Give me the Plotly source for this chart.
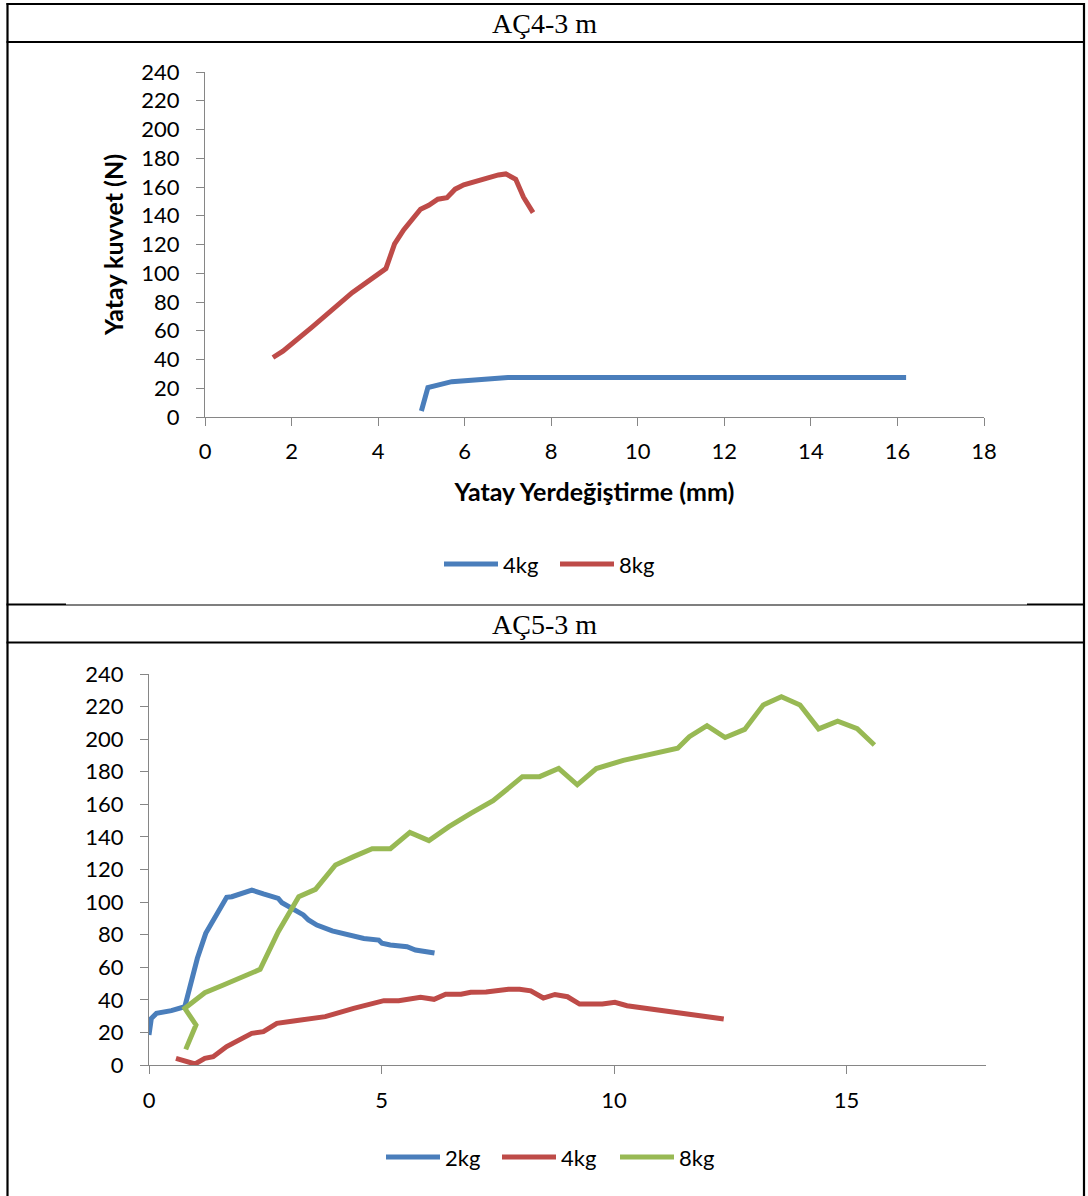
import plotly.graph_objects as go

W, H = 1088, 1196

# ---------------- data ----------------
# Panel 1: AÇ4-3 m
top_title = "AÇ4-3 m"
top_x_4kg = [5.0, 5.15, 5.7, 6.3, 7.0, 8.0, 9.0, 10.0, 11.0, 12.0, 13.0, 14.0, 15.0, 16.2]
top_y_4kg = [4.2, 20.5, 24.6, 25.9, 27.4, 27.4, 27.4, 27.4, 27.4, 27.4, 27.4, 27.4, 27.4, 27.4]
top_x_8kg = [1.57, 1.8, 2.48, 3.4, 4.18, 4.38, 4.59, 4.98, 5.17, 5.38, 5.59, 5.78, 5.98, 6.25,
             6.54, 6.78, 6.95, 7.18, 7.36, 7.58]
top_y_8kg = [41.4, 45.8, 62.7, 86.5, 103.2, 120.4, 130.1, 144.5, 147.3, 151.5, 152.6, 158.5,
             161.5, 164.3, 166.4, 168.4, 169.1, 165.4, 152.9, 142.2]

# Panel 2: AÇ5-3 m
bot_title = "AÇ5-3 m"
bot_x_2kg = [0, 0.05, 0.16, 0.48, 0.77, 0.84, 0.99, 1.04, 1.22, 1.35, 1.54, 1.67, 1.78, 2.03,
             2.21, 2.46, 2.78, 2.86, 3.11, 3.32, 3.43, 3.61, 3.94, 4.26, 4.40, 4.62, 4.94,
             5.01, 5.19, 5.55, 5.73, 5.95, 6.14]
bot_y_2kg = [18.4, 28.6, 31.7, 33.4, 35.8, 44, 59.3, 65.5, 80.8, 87, 96.2, 102.9, 103.3, 105.8,
             107.4, 105, 102.3, 99.6, 95.1, 92.1, 89, 85.9, 82.3, 80.4, 79.2, 77.7, 76.7,
             74.7, 73.7, 72.6, 70.6, 69.4, 68.7]
bot_x_4kg = [0.58, 0.99, 1.2, 1.38, 1.67, 1.92, 2.21, 2.46, 2.75, 3.11, 3.79, 4.40, 5.05, 5.37,
             5.84, 6.13, 6.38, 6.71, 6.92, 7.25, 7.73, 7.97, 8.21, 8.48, 8.73, 9.0, 9.26,
             9.75, 10.02, 10.28, 12.36]
bot_y_4kg = [4.1, 0.6, 4.1, 5.1, 11.3, 15.3, 19.4, 20.5, 25.6, 27.0, 29.7, 34.8, 39.5, 39.5,
             41.5, 40.3, 43.4, 43.4, 44.6, 44.8, 46.5, 46.5, 45.5, 41.1, 43.3, 41.9, 37.4,
             37.4, 38.5, 36.4, 28.2]
bot_x_8kg = [0.79, 1.01, 0.77, 1.2, 1.6, 2.39, 2.78, 3.22, 3.58, 4.01, 4.40, 4.80, 5.19, 5.61,
             6.02, 6.45, 6.92, 7.40, 7.79, 8.03, 8.40, 8.81, 9.21, 9.62, 10.20, 11.37, 11.62,
             12.0, 12.39, 12.81, 13.21, 13.60, 14.0, 14.40, 14.81, 15.23, 15.60]
bot_y_8kg = [9.6, 24.6, 34.8, 44.4, 49.1, 58.7, 81.8, 103.3, 107.8, 122.8, 127.9, 132.8, 132.8,
             142.8, 137.7, 146.3, 154.5, 162.3, 171.3, 177, 177, 182, 172, 182, 187, 194.4,
             201.5, 208.3, 201, 206, 221, 226, 221, 206.3, 211, 206.5, 196.4]

y_title = "Yatay kuvvet (N)"
x_title = "Yatay Yerdeğiştirme (mm)"

BLUE, RED, GREEN = "#4A7EBB", "#BE4B48", "#98B954"
AX = "#868686"
LW = 5

def px(x):
    return x / W

def py(y):
    return 1 - y / H

fig = go.Figure()
fig.add_trace(go.Scatter(x=top_x_4kg, y=top_y_4kg, name="4kg", mode="lines",
                         line=dict(color=BLUE, width=LW), xaxis="x", yaxis="y"))
fig.add_trace(go.Scatter(x=top_x_8kg, y=top_y_8kg, name="8kg", mode="lines",
                         line=dict(color=RED, width=LW), xaxis="x", yaxis="y"))
fig.add_trace(go.Scatter(x=bot_x_2kg, y=bot_y_2kg, name="2kg", mode="lines",
                         line=dict(color=BLUE, width=LW), xaxis="x2", yaxis="y2"))
fig.add_trace(go.Scatter(x=bot_x_4kg, y=bot_y_4kg, name="4kg", mode="lines",
                         line=dict(color=RED, width=LW), xaxis="x2", yaxis="y2"))
fig.add_trace(go.Scatter(x=bot_x_8kg, y=bot_y_8kg, name="8kg", mode="lines",
                         line=dict(color=GREEN, width=LW), xaxis="x2", yaxis="y2"))

TF = dict(family="Lato", size=22, color="black")
common = dict(showline=True, linecolor=AX, linewidth=1.3, ticks="outside", ticklen=8,
              tickcolor=AX, tickwidth=1.3, showgrid=False, zeroline=False, tickfont=TF,
              fixedrange=True, automargin=False)
TITLEF = dict(family="Lato", size=25, color="black")

fig.update_layout(
    template="none",
    width=W, height=H, margin=dict(l=0, r=0, t=0, b=0, pad=0), autosize=False,
    paper_bgcolor="white", plot_bgcolor="white", showlegend=False,
    xaxis=dict(domain=[px(205), px(984)], range=[0, 18], dtick=2, tick0=0, anchor="y",
               ticklabelstandoff=6,
               title=dict(text="<b>" + x_title + "</b>", font=TITLEF, standoff=20), **common),
    yaxis=dict(domain=[py(417), py(72)], range=[0, 240], dtick=20, tick0=0, anchor="x",
               ticklabelstandoff=12,
               title=dict(text="<b>" + y_title + "</b>", font=TITLEF, standoff=10), **common),
    xaxis2=dict(domain=[px(149), px(986)], range=[0, 18], dtick=5, tick0=0, anchor="y2",
                ticklabelstandoff=7, **common),
    yaxis2=dict(domain=[py(1065), py(674)], range=[0, 240], dtick=20, tick0=0, anchor="x2",
                ticklabelstandoff=12, **common),
)

shapes = []
def hline(x0, x1, y, w=2.2):
    shapes.append(dict(type="line", xref="paper", yref="paper", x0=px(x0), x1=px(x1),
                       y0=py(y), y1=py(y), line=dict(color="black", width=w)))
def vline(x, y0, y1, w=2.2):
    shapes.append(dict(type="line", xref="paper", yref="paper", x0=px(x), x1=px(x),
                       y0=py(y0), y1=py(y1), line=dict(color="black", width=w)))

# table borders
vline(7.5, 3, H)
vline(1084, 3, H)
hline(6.5, 1085, 4)
hline(6.5, 1085, 42)
hline(6.5, 66, 604.5)
hline(66, 1027, 605, w=1.2)
hline(1027, 1085, 604.5)
hline(6.5, 1085, 642.5)

annotations = [
    dict(text=top_title, x=px(544), y=py(24), xref="paper", yref="paper", showarrow=False,
         xanchor="center", yanchor="middle",
         font=dict(family="Liberation Serif", size=28, color="black")),
    dict(text=bot_title, x=px(544), y=py(624), xref="paper", yref="paper", showarrow=False,
         xanchor="center", yanchor="middle",
         font=dict(family="Liberation Serif", size=28, color="black")),
]

# custom legends (line sample + label)
def legend_item(x0, y, color, label):
    shapes.append(dict(type="line", xref="paper", yref="paper", x0=px(x0), x1=px(x0 + 54),
                       y0=py(y), y1=py(y), line=dict(color=color, width=LW)))
    annotations.append(dict(text=label, x=px(x0 + 57), y=py(y), xref="paper", yref="paper",
                            xanchor="left", yanchor="middle", showarrow=False,
                            font=dict(family="Lato", size=22, color="black")))

legend_item(444, 564, BLUE, fig.data[0].name)
legend_item(560, 564, RED, fig.data[1].name)
legend_item(386, 1157, BLUE, fig.data[2].name)
legend_item(502, 1157, RED, fig.data[3].name)
legend_item(620, 1157, GREEN, fig.data[4].name)

fig.update_layout(shapes=shapes, annotations=annotations)
fig.write_html("out.html", config={"displayModeBar": False},
               post_script="document.body.style.margin='0px';document.body.style.overflow='hidden';")
